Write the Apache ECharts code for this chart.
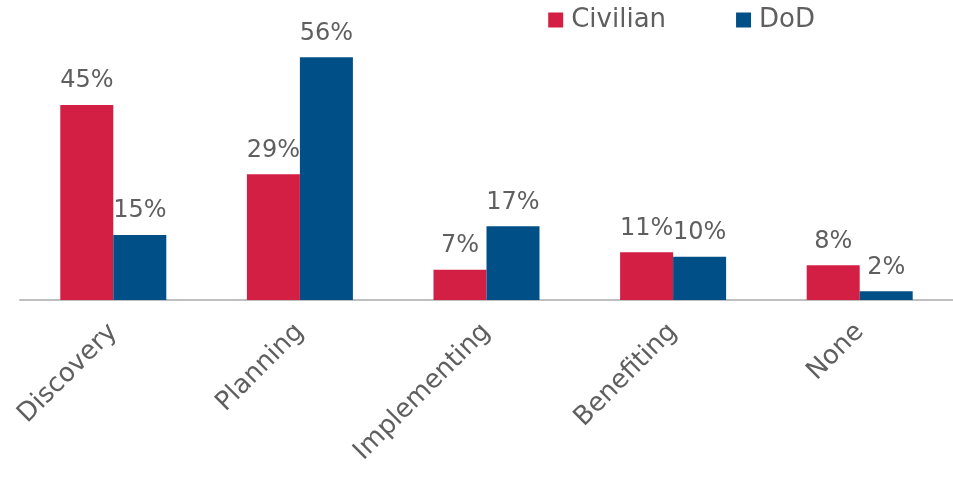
<!DOCTYPE html>
<html lang="en">
<head>
    <meta charset="UTF-8">
    <title>Stage by agency type</title>
    <script src="https://cdn.jsdelivr.net/npm/echarts@6/dist/echarts.min.js"></script>
    <style>
        body{ margin:0; background:#fff; }
    </style>
</head>
<body>
    <div id="main" style="width: 953px;height:479px;"></div>
    <script>
        // 数据
        var categories = ['Discovery', 'Planning', 'Implementing', 'Benefiting', 'None'];
        var civilian = [45, 29, 7, 11, 8];
        var dod = [15, 56, 17, 10, 2];

        var font = '"DejaVu Sans", sans-serif';
        var textColor = '#5f5f5f';

        var chart = echarts.init(document.getElementById('main'));
        chart.setOption({
            animation: false,
            legend: {
                right: 133,
                top: 2,
                icon: 'rect',
                itemWidth: 15,
                itemHeight: 15,
                itemGap: 70,
                textStyle: { fontFamily: font, fontSize: 26, color: textColor, padding: [0, 0, 0, 3] },
                data: ['Civilian', 'DoD']
            },
            grid: { left: 20, right: 0, top: 40, bottom: 179 },
            xAxis: {
                type: 'category',
                data: categories,
                axisLine: { lineStyle: { color: '#bfbfbf', width: 2 } },
                axisTick: { show: false },
                axisLabel: {
                    rotate: 45,
                    margin: 28,
                    fontFamily: font,
                    fontSize: 26,
                    color: textColor
                }
            },
            yAxis: {
                type: 'value',
                min: 0,
                max: 60,
                show: false,
                splitLine: { show: false }
            },
            series: [{
                name: 'Civilian',
                type: 'bar',
                data: civilian,
                barWidth: 53,
                barGap: '0%',
                itemStyle: { color: '#d41f45' },
                label: {
                    show: true, position: 'top', distance: 12,
                    formatter: '{c}%', fontFamily: font, fontSize: 24, color: textColor
                }
            }, {
                name: 'DoD',
                type: 'bar',
                data: dod,
                barWidth: 53,
                itemStyle: { color: '#004f87' },
                label: {
                    show: true, position: 'top', distance: 12,
                    formatter: '{c}%', fontFamily: font, fontSize: 24, color: textColor
                }
            }]
        });
    </script>
</body>
</html>
